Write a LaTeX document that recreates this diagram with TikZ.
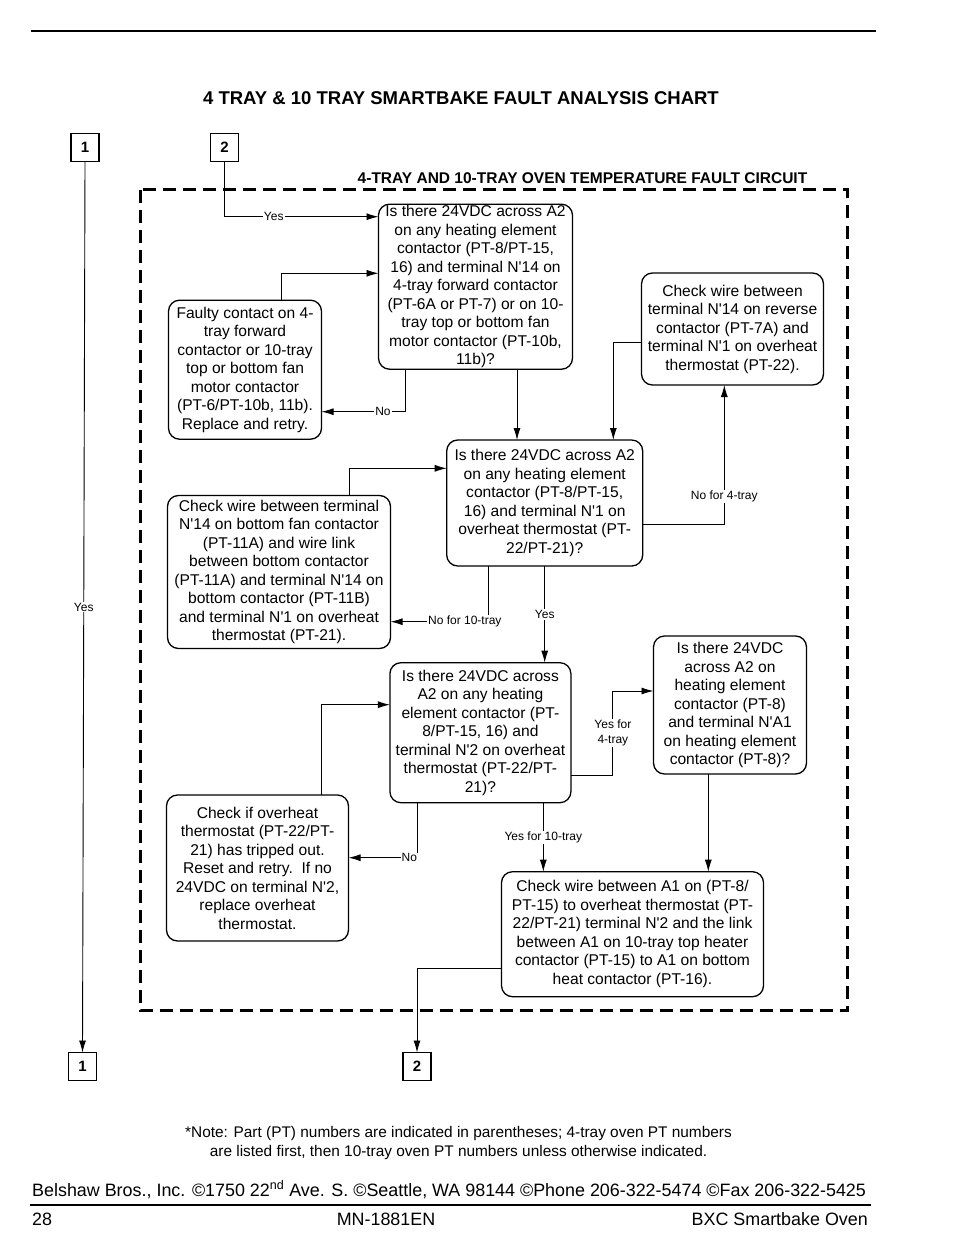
\documentclass[tikz,border=0pt]{standalone}
\usepackage{fontspec}
\setmainfont{Liberation Sans}[Ligatures=TeXOff]
\usetikzlibrary{calc}
\usetikzlibrary{arrows.meta}
\tikzset{%
    check box/.style={inner xsep=1pt,inner ysep=1pt,outer sep=0pt,shape=rectangle,rounded corners=11pt,draw,line width=1.3pt,align=center,font=\fontsize{15.6}{18.5}\selectfont},
    ref box/.style={inner sep=0pt,outer sep=0pt,shape=rectangle,draw,line width=1.1pt,minimum size=28pt,font=\bfseries\fontsize{15}{18}\selectfont},
    flow/.style={-{Latex[length=12pt,width=7pt]},line width=0.9pt},
    flow label/.style={fill=white,inner sep=1pt,align=center,font=\fontsize{12}{15}\selectfont},
    circuit frame/.style={line width=3pt,dash pattern=on 13pt off 7pt},
}
\begin{document}
\begin{tikzpicture}[x=1pt,y=-1pt]
        \useasboundingbox (0,0) rectangle (954,1260);
        \draw[line width=1.3pt] (31,31) -- (876,31);
        \node[font=\bfseries\fontsize{18.5}{22}\selectfont,anchor=base] (chart title) at (461,104.5) {4 TRAY \& 10 TRAY SMARTBAKE FAULT ANALYSIS CHART};
        \node[font=\bfseries\fontsize{15.5}{18}\selectfont,anchor=base] (circuit title) at (582.5,184) {4-TRAY AND 10-TRAY OVEN TEMPERATURE FAULT CIRCUIT};
        \draw[circuit frame] (140,190) rectangle (847.5,1010.5);

        \node[ref box] (topone) at (85,147.5) {1};
        \node[ref box] (toptwo) at (224.5,147.5) {2};
        \node[ref box] (botone) at (82.5,1066.5) {1};
        \node[ref box] (bottwo) at (417,1066.5) {2};

        \node[check box,minimum width=194pt,minimum height=165pt] (askfwd) at (475.5,286.7) {Is there 24VDC across A2\\on any heating element\\contactor (PT-8/PT-15,\\16) and terminal N'14 on\\4-tray forward contactor\\(PT-6A or PT-7) or on 10-\\tray top or bottom fan\\motor contactor (PT-10b,\\11b)?};
        \node[check box,minimum width=153pt,minimum height=139pt] (faulty) at (245,369.7) {Faulty contact on 4-\\tray forward\\contactor or 10-tray\\top or bottom fan\\motor contactor\\(PT-6/PT-10b, 11b).\\Replace and retry.};
        \node[check box,minimum width=182pt,minimum height=112pt] (wirerev) at (732.5,329) {Check wire between\\terminal N'14 on reverse\\contactor (PT-7A) and\\terminal N'1 on overheat\\thermostat (PT-22).};
        \node[check box,minimum width=196pt,minimum height=126pt] (askn1) at (544.7,503) {Is there 24VDC across A2\\on any heating element\\contactor (PT-8/PT-15,\\16) and terminal N'1 on\\overheat thermostat (PT-\\22/PT-21)?};
        \node[check box,minimum width=223pt,minimum height=153pt] (wirebot) at (279,572) {Check wire between terminal\\N'14 on bottom fan contactor\\(PT-11A) and wire link\\between bottom contactor\\(PT-11A) and terminal N'14 on\\bottom contactor (PT-11B)\\and terminal N'1 on overheat\\thermostat (PT-21).};
        \node[check box,minimum width=181pt,minimum height=140pt] (askn2) at (480.4,732.7) {Is there 24VDC across\\A2 on any heating\\element contactor (PT-\\8/PT-15, 16) and\\terminal N'2 on overheat\\thermostat (PT-22/PT-\\21)?};
        \node[check box,minimum width=182pt,minimum height=146pt] (tripped) at (257.5,868) {Check if overheat\\thermostat (PT-22/PT-\\21) has tripped out.\\Reset and retry.\ \ If no\\24VDC on terminal N'2,\\replace overheat\\thermostat.};
        \node[check box,minimum width=153pt,minimum height=138pt] (askna1) at (730,705) {Is there 24VDC\\across A2 on\\heating element\\contactor (PT-8)\\and terminal N'A1\\on heating element\\contactor (PT-8)?};
        \node[check box,minimum width=262pt,minimum height=125pt] (wirea1) at (632.5,934.2) {Check wire between A1 on (PT-8/\\PT-15) to overheat thermostat (PT-\\22/PT-21) terminal N'2 and the link\\between A1 on 10-tray top heater\\contactor (PT-15) to A1 on bottom\\heat contactor (PT-16).};

        \draw[flow] (topone.south) -- node[flow label] {Yes} (botone.north);
        \draw[flow] (toptwo.south) |- node[flow label,pos=0.66] {Yes} ([yshift=70pt]askfwd.west);
        \draw[flow] ([xshift=36pt]faulty.north) |- ([yshift=13.4pt]askfwd.west);
        \draw[flow] ([xshift=-69.8pt]askfwd.south) |- node[flow label,pos=0.635] {No} ([yshift=-42pt]faulty.east);
        \draw[flow] ([xshift=41.5pt]askfwd.south) coordinate (fa) -- (fa |- askn1.north);

        \draw[flow] ([yshift=-21.3pt]askn1.east) -| node[flow label,pos=0.6] {No for 4-tray} ([xshift=-8.2pt]wirerev.south);
        \draw[flow] ([yshift=-13.3pt]wirerev.west) -| ([xshift=68.6pt]askn1.north);
        \draw[flow] ([xshift=70.3pt]wirebot.north) |- ([yshift=34.7pt]askn1.west);
        \draw[flow] ([xshift=-56.4pt]askn1.south) |- node[flow label,pos=0.62] {No for 10-tray} ([yshift=-49.7pt]wirebot.east);
        \draw[flow] (askn1.south) coordinate (fb) -- node[flow label] {Yes} (fb |- askn2.north);

        \draw[flow] ([xshift=63.5pt]tripped.north) |- ([yshift=28pt]askn2.west);
        \draw[flow] ([xshift=-62.7pt]askn2.south) |- node[flow label,pos=0.56] {No} ([yshift=10.3pt]tripped.east);
        \draw[flow] ([yshift=-42.3pt]askn2.east) -| node[flow label,pos=0.75] {Yes for\\4-tray} ([xshift=-40.6pt,yshift=14pt]askna1.west) -- ([yshift=14pt]askna1.west);
        \draw[flow] ([xshift=62.9pt]askn2.south) coordinate (fc) -- node[flow label] {Yes for 10-tray} (fc |- wirea1.north);
        \draw[flow] ([xshift=-21.7pt]askna1.south) coordinate (fd) -- (fd |- wirea1.north);
        \draw[flow] ([yshift=-33.8pt]wirea1.west) -| (bottwo.north);

        \node[align=center,font=\fontsize{15.4}{19}\selectfont] (note) at (458.5,1143.5) {*Note: Part (PT) numbers are indicated in parentheses; 4-tray oven PT numbers\\are listed first, then 10-tray oven PT numbers unless otherwise indicated.};
        \node[anchor=base west,inner sep=0pt,font=\fontsize{17.9}{22}\selectfont] (address) at (32,1196) {Belshaw Bros., Inc. ©1750 22\textsuperscript{nd} Ave. S. ©Seattle, WA 98144 ©Phone 206-322-5474 ©Fax 206-322-5425};
        \draw[line width=1.5pt] (30,1205) -- (871,1205);
        \node[anchor=base west,inner sep=0pt,font=\fontsize{17.9}{22}\selectfont] (page no) at (32,1225) {28};
        \node[anchor=base,inner sep=0pt,font=\fontsize{17.9}{22}\selectfont] (manual) at (386,1225) {MN-1881EN};
        \node[anchor=base east,inner sep=0pt,font=\fontsize{17.9}{22}\selectfont] (oven) at (868,1225) {BXC Smartbake Oven};
\end{tikzpicture}
\end{document}
